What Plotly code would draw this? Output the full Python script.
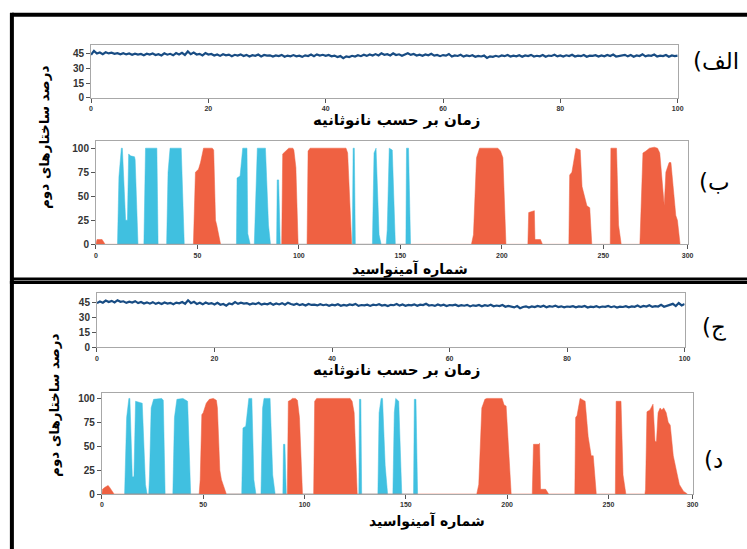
import plotly.graph_objects as go

W, H = 747, 549

# ---------------- data ----------------
time_ns = [i * 0.5 for i in range(201)]

helix_pct_time_a = [
    43.5, 47.5, 44.8, 45.9, 44.2, 46.1, 45.0, 45.8, 44.6, 45.3, 44.1, 45.2, 44.0, 44.9, 43.6, 44.8, 43.9, 44.5, 43.2, 44.7, 43.8,
    44.9, 43.4, 44.2, 42.9, 45.1, 43.7, 44.6, 43.1, 45.4, 44.0, 45.6, 43.5, 47.0, 44.2, 45.8, 43.9, 44.6, 43.0, 45.3, 43.8,
    44.4, 42.8, 43.9, 42.5, 44.1, 43.0, 43.8, 42.2, 43.6, 42.9, 44.0, 42.4, 43.5, 41.9, 43.2, 42.6, 43.9, 42.0, 43.4, 42.7,
    43.1, 41.8, 42.9, 42.3, 43.5, 41.7, 42.8, 42.1, 43.3, 42.0, 42.7, 41.5, 43.0, 42.4, 43.8, 42.2, 44.0, 42.9, 43.6, 42.5,
    43.4, 42.1, 42.8, 41.4, 42.3, 40.2, 42.0, 41.3, 42.6, 41.8, 43.1, 42.2, 43.7, 42.5, 43.9, 42.8, 44.3, 43.0, 45.1, 43.6,
    44.2, 42.9, 45.0, 43.4, 44.1, 42.7, 43.8, 45.2, 43.5, 44.4, 42.9, 43.7, 42.6, 44.0, 43.1, 44.6, 42.8, 43.5, 42.2, 43.3,
    42.7, 44.4, 41.9, 43.0, 42.4, 43.6, 41.8, 42.9, 42.2, 43.1, 41.6, 42.5, 41.9, 42.8, 40.4, 42.0, 41.5, 42.6, 41.7, 42.9,
    42.2, 43.4, 41.8, 42.7, 42.0, 43.2, 41.6, 42.9, 42.3, 43.5, 41.9, 42.6, 42.1, 43.3, 41.7, 42.8, 42.4, 43.6, 42.0, 42.9,
    41.8, 43.1, 42.3, 43.7, 41.9, 42.8, 42.2, 43.4, 41.6, 42.7, 42.5, 43.2, 41.8, 43.0, 42.1, 43.5, 42.4, 43.9, 41.9, 42.6,
    42.8, 43.6, 42.0, 43.3, 41.7, 42.9, 42.4, 44.2, 42.1, 43.0, 42.6, 43.8, 41.9, 42.7, 42.3, 43.4, 41.6, 42.9, 42.2, 42.8,
]

helix_pct_time_c = [
    44.5, 46.2, 44.9, 47.1, 45.6, 46.8, 45.2, 47.5, 45.9, 46.4, 44.8, 46.0, 45.1, 46.5, 44.6, 45.7, 44.2, 45.3, 44.0, 45.5, 43.8,
    44.9, 43.6, 45.2, 44.1, 44.8, 43.4, 45.0, 44.3, 45.6, 43.9, 47.4, 44.5, 45.8, 43.7, 44.9, 43.3, 45.1, 43.9, 44.6, 43.2,
    44.8, 42.9, 43.7, 42.0, 44.2, 43.4, 45.5, 43.8, 45.0, 44.1, 44.6, 43.2, 44.3, 43.5, 44.8, 43.0, 44.0, 43.3, 44.7, 42.8,
    44.1, 43.2, 44.5, 42.9, 45.0, 43.6, 42.8, 43.9, 42.5, 43.4, 42.1, 43.6, 42.7, 43.0, 42.2, 43.5, 42.4, 43.1, 41.8, 42.9,
    42.3, 43.4, 41.9, 42.8, 42.0, 43.2, 42.5, 43.7, 41.8, 42.6, 42.2, 43.0, 41.7, 42.9, 42.4, 43.5, 42.1, 42.7, 41.6, 42.8,
    42.4, 43.6, 42.0, 43.1, 41.9, 42.7, 42.3, 43.3, 41.8, 43.0, 42.5, 43.8, 42.1, 42.6, 41.7, 43.2, 42.0, 42.9, 41.5, 42.6,
    42.2, 43.0, 41.6, 42.5, 41.9, 42.8, 41.2, 42.3, 41.8, 42.7, 41.4, 42.4, 41.7, 42.9, 41.3, 42.1, 41.5, 42.6, 40.9, 41.8,
    41.1, 40.2, 41.5, 39.4, 40.6, 41.3, 40.0, 41.2, 40.5, 41.6, 40.8, 41.9, 40.4, 41.4, 40.9, 42.0, 40.6, 41.3, 40.2, 41.1,
    40.7, 41.5, 40.3, 41.2, 40.8, 41.7, 40.1, 41.0, 40.5, 41.4, 40.2, 41.1, 40.7, 41.6, 40.4, 41.3, 40.0, 40.9, 40.6, 41.5,
    40.3, 41.2, 40.8, 42.1, 40.5, 41.6, 41.0, 42.4, 40.7, 41.5, 41.1, 42.8, 40.9, 42.0, 42.5, 43.8, 41.6, 44.6, 42.2, 43.7,
]

# panel b : per-residue secondary structure (%)
helix_b_res = [0, 0.5, 3, 4.5,
               48, 49, 50.5, 51.5, 53, 57.3, 58, 58.9, 59.5, 61.4,
               91.5, 92, 93, 95, 97, 97.5, 98.5, 99.6,
               104, 104.5, 105.5, 123.2, 124, 126,
               185, 186, 187.5, 189, 198, 199.3, 200.5, 202,
               212.8, 213.2, 216, 216.3, 219, 220,
               233, 233.4, 234.5, 236.5, 238.6, 239.5, 241.9, 243.3, 244.3,
               253.4, 253.7, 256.5, 257.5, 258.8,
               268, 269.5, 271, 272.7, 275.1, 276.7, 277.8, 280, 280.8, 282.4, 283.3, 285.7, 286.5, 287.8]
helix_b_pct = [0, 5, 5, 0,
               0, 75, 78, 85, 100, 100, 98, 25, 20, 0,
               0, 94, 96, 100, 100, 98, 80, 0,
               0, 97, 100, 100, 95, 0,
               0, 10, 90, 100, 100, 97, 90, 0,
               0, 33, 35, 5, 5, 0,
               0, 72, 75, 100, 98, 60, 40, 38, 0,
               0, 100, 100, 20, 0,
               0, 95, 97, 100, 101, 100, 95, 40, 75, 85, 85, 30, 25, 0]

sheet_b_res = [10.6, 11.3, 12.5, 13, 14.6, 15.5, 16.1, 17, 19, 19.3, 20.7,
               23.6, 24.4, 30, 30.6,
               34.8, 35.5, 36.5, 42, 43.5,
               69.2, 69.5, 71, 72.3, 74.4, 74.8, 76,
               78, 79.5, 83.5, 85, 86,
               89, 89.3, 90, 90.8,
               126.3, 126.7, 127.3, 127.8,
               136.2, 137, 138, 139, 139.5, 140.5,
               143, 143.5, 144.5, 146, 147.5,
               152.7, 153, 154, 155]
sheet_b_pct = [0, 70, 100, 100, 25, 25, 94, 92, 91, 88, 0,
               0, 100, 100, 0,
               0, 75, 100, 100, 0,
               0, 69, 71, 100, 100, 11, 0,
               0, 100, 100, 20, 0,
               0, 67, 67, 0,
               0, 100, 100, 0,
               0, 95, 100, 30, 10, 0,
               0, 15, 100, 98, 0,
               0, 100, 100, 0]

# panel d
helix_d_res = [0, 0.3, 1.5, 3, 3.5, 5, 6,
               48, 48.5, 49.3, 50, 51.5, 53, 55, 56.5, 57, 58.2, 59, 61.4,
               91.5, 92, 93, 94, 95.5, 96.5, 97.5, 99,
               104.5, 105, 106, 122.5, 123.5, 124.5, 126,
               185, 186, 187.5, 189, 190, 197.5, 198.5, 199.5, 200.5, 202,
               212.4, 213, 215.5, 216, 216.5, 219, 220.5,
               233.4, 233.8, 234.5, 236, 237.5, 238.5, 240, 241.5, 242.5, 244,
               253.4, 253.8, 256.2, 257.2, 258.6,
               268, 268.3, 269, 270.5, 272, 273, 273.7, 274.5, 275.5, 276.3, 277.3, 278.5, 279.5, 280.5, 282, 283.5, 285, 287, 289]
helix_d_pct = [0, 5, 7, 9, 8, 3, 0,
               0, 15, 83, 85, 95, 99, 100, 98, 90, 25, 15, 0,
               0, 97, 98, 100, 100, 98, 80, 0,
               0, 97, 100, 100, 97, 85, 0,
               0, 10, 90, 99, 100, 100, 93, 92, 60, 0,
               0, 52, 52, 53, 5, 5, 0,
               0, 80, 82, 100, 98, 97, 60, 40, 40, 0,
               0, 97, 97, 20, 0,
               0, 5, 86, 88, 94, 55, 55, 85, 90, 88, 90, 85, 75, 72, 40, 25, 10, 3, 0]

sheet_d_res = [11.2, 12.2, 13.3, 13.8, 15, 15.8, 16.6, 18.7, 19.9, 21.5, 22.3,
               23.1, 23.5, 24.3, 25.5, 29.5, 30.3, 31.2,
               35, 35.8, 37, 40, 41.3, 42.3, 43.8,
               69, 69.6, 71, 72.5, 74, 75, 76,
               78.5, 79.3, 80, 83, 84.3, 85.5,
               89.3, 89.6, 90.3, 91,
               126.8, 127.1, 127.8, 128.2,
               136.2, 136.8, 137.8, 138.5, 139.8, 140.5, 141,
               143.6, 144.3, 145, 146.5, 148,
               153.8, 154.2, 155, 155.8]
sheet_d_pct = [0, 80, 100, 100, 18, 18, 97, 96, 95, 10, 0,
               0, 20, 90, 99, 100, 98, 0,
               0, 80, 99, 100, 98, 97, 0,
               0, 69, 71, 100, 100, 15, 0,
               0, 90, 100, 100, 20, 0,
               0, 52, 52, 0,
               0, 99, 99, 0,
               0, 85, 100, 100, 30, 5, 0,
               0, 85, 100, 97, 0,
               0, 99, 99, 0]

time_ticks = [0, 20, 40, 60, 80, 100]
time_pct_ticks = [0, 15, 30, 45]
res_tickvals = [0, 50, 100, 150, 200, 250, 291.5]
res_ticktext = ["0", "50", "100", "150", "200", "250", "300"]
res_pct_ticks = [0, 25, 50, 75, 100]

xtitle_time = "زمان بر حسب نانوثانیه"
xtitle_res = "شماره آمینواسید"
ytitle = "درصد ساختار\u200cهای دوم"
panel_labels = ["الف)", "ب)", "ج)", "د)"]

# ---------------- styles ----------------
LINE_BLUE = "#184c83"
SHEET = "#40c0e0"
HELIX = "#ef6142"
FONT = "Liberation Sans, Arial, sans-serif"
AFONT = "DejaVu Sans, sans-serif"


def fx(px):
    return px / W


def fy(py):
    return 1 - py / H


fig = go.Figure()

fig.add_trace(go.Scatter(x=time_ns, y=helix_pct_time_a, mode="lines",
                         line=dict(color=LINE_BLUE, width=2.2), xaxis="x", yaxis="y",
                         showlegend=False))
fig.add_trace(go.Scatter(x=sheet_b_res, y=sheet_b_pct, mode="lines", fill="tozeroy",
                         fillcolor=SHEET, line=dict(color=SHEET, width=0.5),
                         xaxis="x2", yaxis="y2", showlegend=False))
fig.add_trace(go.Scatter(x=helix_b_res, y=helix_b_pct, mode="lines", fill="tozeroy",
                         fillcolor=HELIX, line=dict(color=HELIX, width=0.5),
                         xaxis="x2", yaxis="y2", showlegend=False))
fig.add_trace(go.Scatter(x=time_ns, y=helix_pct_time_c, mode="lines",
                         line=dict(color=LINE_BLUE, width=2.2), xaxis="x3", yaxis="y3",
                         showlegend=False))
fig.add_trace(go.Scatter(x=sheet_d_res, y=sheet_d_pct, mode="lines", fill="tozeroy",
                         fillcolor=SHEET, line=dict(color=SHEET, width=0.5),
                         xaxis="x4", yaxis="y4", showlegend=False))
fig.add_trace(go.Scatter(x=helix_d_res, y=helix_d_pct, mode="lines", fill="tozeroy",
                         fillcolor=HELIX, line=dict(color=HELIX, width=0.5),
                         xaxis="x4", yaxis="y4", showlegend=False))

common_x = dict(showline=True, linecolor="#a8a8a8", linewidth=1, mirror=True,
                ticks="outside", ticklen=4, tickcolor="#555", showgrid=False, zeroline=False,
                tickfont=dict(family=FONT, size=7, color="#333", weight="bold"))
common_y = dict(showline=True, linecolor="#a8a8a8", linewidth=1, mirror=True,
                ticks="outside", ticklen=4, tickcolor="#555", showgrid=False, zeroline=False,
                tickfont=dict(family=FONT, size=10, color="#333", weight="bold"))

# panel pixel boxes: (left, right, top, bottom)
boxes = {
    "a": (90, 683, 45, 99),
    "b": (95, 693, 143, 247),
    "c": (96, 690, 296, 351),
    "d": (101, 698, 397, 499.5),
}

def dom(b):
    l, r, t, bt = b
    return [fx(l), fx(r)], [fy(bt), fy(t)]

dxa, dya = dom(boxes["a"])
dxb, dyb = dom(boxes["b"])
dxc, dyc = dom(boxes["c"])
dxd, dyd = dom(boxes["d"])

fig.update_layout(
    width=W, height=H, margin=dict(l=0, r=0, t=0, b=0), autosize=False,
    paper_bgcolor="white", plot_bgcolor="white",
    xaxis=dict(domain=dxa, range=[0, 100], tickvals=time_ticks, anchor="y", **common_x),
    yaxis=dict(domain=dya, range=[0, 54], tickvals=time_pct_ticks, anchor="x", **common_y),
    xaxis2=dict(domain=dxb, range=[0, 291.5], tickvals=res_tickvals, ticktext=res_ticktext,
                anchor="y2", **common_x),
    yaxis2=dict(domain=dyb, range=[0, 107], tickvals=res_pct_ticks, anchor="x2", **common_y),
    xaxis3=dict(domain=dxc, range=[0, 100], tickvals=time_ticks, anchor="y3", **common_x),
    yaxis3=dict(domain=dyc, range=[0, 55], tickvals=time_pct_ticks, anchor="x3", **common_y),
    xaxis4=dict(domain=dxd, range=[0, 291.5], tickvals=res_tickvals, ticktext=res_ticktext,
                anchor="y4", **common_x),
    yaxis4=dict(domain=dyd, range=[0, 106], tickvals=res_pct_ticks, anchor="x4", **common_y),
)

ann = []
def add_text(text, px, py, size, bold=True, angle=0, family=AFONT):
    ann.append(dict(text=text, x=fx(px), y=fy(py), xref="paper", yref="paper",
                    showarrow=False, xanchor="center", yanchor="middle", textangle=angle,
                    font=dict(family=family, size=size, color="black",
                              weight="bold" if bold else "normal")))

add_text(xtitle_time, 399, 121.5, 15)
add_text(xtitle_res, 412, 272, 14)
add_text(xtitle_time, 399, 374.5, 15)
add_text(xtitle_res, 430, 527, 14)
add_text(ytitle, 43, 139, 13.5, angle=-90)
add_text(ytitle, 53, 410, 13.5, angle=-90)
for lab, (px, py) in zip(panel_labels, [(722, 62), (720, 184), (720, 331), (719, 465)]):
    # trailing RLM keeps the closing parenthesis on the left (RTL order)
    add_text(lab + "\u200f", px, py, 23, bold=False)
fig.update_layout(annotations=ann)

shapes = [
    # top frame
    dict(type="line", x0=fx(10), x1=fx(760), y0=fy(15), y1=fy(15), line=dict(color="black", width=4)),
    dict(type="line", x0=fx(10), x1=fx(10), y0=fy(13), y1=fy(287), line=dict(color="black", width=4)),
    dict(type="line", x0=fx(10), x1=fx(760), y0=fy(282), y1=fy(282), line=dict(color="black", width=3)),
    # bottom frame
    dict(type="line", x0=fx(10), x1=fx(760), y0=fy(285.5), y1=fy(285.5), line=dict(color="black", width=3)),
    dict(type="line", x0=fx(10), x1=fx(10), y0=fy(284), y1=fy(560), line=dict(color="black", width=4)),
]
for s in shapes:
    s.update(xref="paper", yref="paper")
fig.update_layout(shapes=shapes)

fig.write_html("out.html", config={"displayModeBar": False},
               post_script="document.body.style.margin='0';")
